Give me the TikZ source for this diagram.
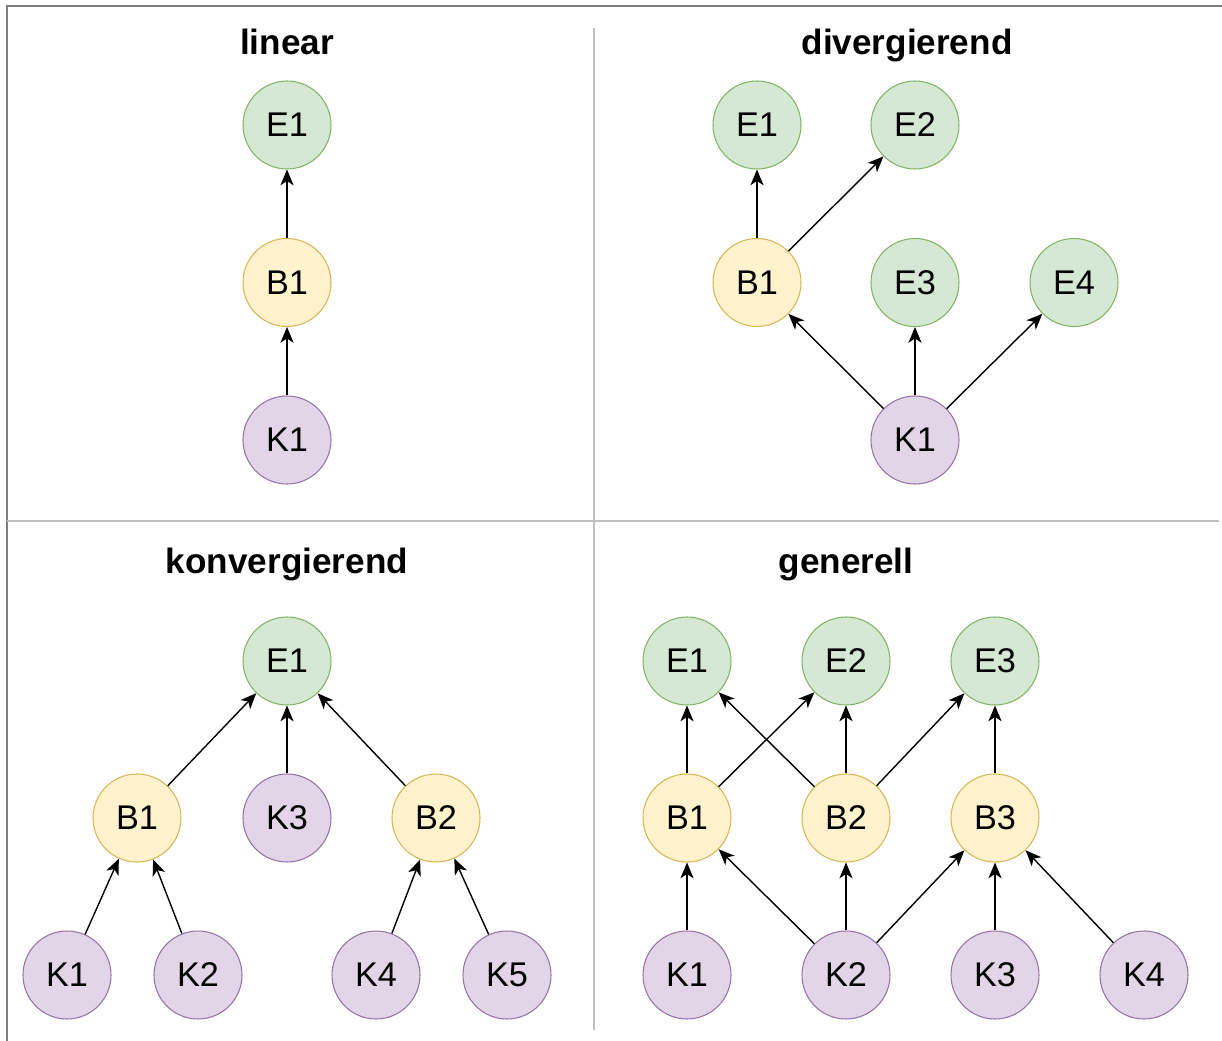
\documentclass[tikz,border=0pt]{standalone}
\usepackage{fontspec}
\setmainfont{Liberation Sans}
\usetikzlibrary{positioning,arrows.meta}
\definecolor{efill}{HTML}{D5E8D4}
\definecolor{edraw}{HTML}{82B366}
\definecolor{bfill}{HTML}{FFF2CC}
\definecolor{bdraw}{HTML}{D6B656}
\definecolor{kfill}{HTML}{E1D5E7}
\definecolor{kdraw}{HTML}{9673A6}

\begin{document}
\begin{tikzpicture}[line width=0.8pt,on grid,
link/.style={-{Stealth[length=9pt,width=7.5pt,inset=2.5pt]}},
e node/.style={circle,draw=edraw,fill=efill,line width=0.6pt,minimum size=1.76cm,inner sep=0pt,font=\fontsize{19.5}{22}\selectfont},
b node/.style={e node,draw=bdraw,fill=bfill},
k node/.style={e node,draw=kdraw,fill=kfill},
title/.style={anchor=base,font=\fontsize{20}{24}\selectfont\bfseries},
frame/.style={draw=black!50,line width=1.1pt},
divider/.style={draw=black!25,line width=0.9pt}]
\useasboundingbox (0,0) rectangle (24.44,-20.82);
% frame and dividers
\draw[frame] (0.14,-20.82) -- (0.14,-0.12) -- (24.44,-0.12);
\draw[divider] (11.88,-0.56) -- (11.88,-20.6);
\draw[divider] (0.14,-10.42) -- (24.38,-10.42);

% linear
\node[title] (t1) at (5.74,-1.1) {linear};
\node[e node] (l e1) at (5.74,-2.5) {E1};
\node[b node] (l b1) [below = 3.15cm of l e1] {B1};
\node[k node] (l k1) [below = 3.15cm of l b1] {K1};
\path[link]
  (l b1) edge (l e1)
  (l k1) edge (l b1);

% divergierend
\node[title] (t2) at (18.14,-1.1) {divergierend};
\node[e node] (d e1) at (15.14,-2.5) {E1};
\node[e node] (d e2) [right = 3.16cm of d e1] {E2};
\node[b node] (d b1) [below = 3.15cm of d e1] {B1};
\node[e node] (d e3) [below = 3.15cm of d e2] {E3};
\node[e node] (d e4) [right = 3.18cm of d e3] {E4};
\node[k node] (d k1) [below = 3.15cm of d e3] {K1};
\path[link]
  (d b1) edge (d e1)
  (d b1) edge (d e2)
  (d k1) edge (d b1)
  (d k1) edge (d e3)
  (d k1) edge (d e4);

% konvergierend
\node[title] (t3) at (5.74,-11.48) {konvergierend};
\node[e node] (c e1) at (5.74,-13.22) {E1};
\node[k node] (c k3) [below = 3.14cm of c e1] {K3};
\node[b node] (c b1) [left = 3.0cm of c k3] {B1};
\node[b node] (c b2) [right = 2.98cm of c k3] {B2};
\node[k node] (c k1) [below left = 3.14cm and 1.4cm of c b1] {K1};
\node[k node] (c k2) [below right = 3.14cm and 1.22cm of c b1] {K2};
\node[k node] (c k4) [below left = 3.14cm and 1.2cm of c b2] {K4};
\node[k node] (c k5) [below right = 3.14cm and 1.42cm of c b2] {K5};
\path[link]
  (c b1) edge (c e1)
  (c k3) edge (c e1)
  (c b2) edge (c e1)
  (c k1) edge (c b1)
  (c k2) edge (c b1)
  (c k4) edge (c b2)
  (c k5) edge (c b2);

% generell
\node[title] (t4) at (16.92,-11.48) {generell};
\node[e node] (g e1) at (13.74,-13.22) {E1};
\node[e node] (g e2) [right = 3.18cm of g e1] {E2};
\node[e node] (g e3) [right = 2.98cm of g e2] {E3};
\node[b node] (g b1) [below = 3.14cm of g e1] {B1};
\node[b node] (g b2) [below = 3.14cm of g e2] {B2};
\node[b node] (g b3) [below = 3.14cm of g e3] {B3};
\node[k node] (g k1) [below = 3.14cm of g b1] {K1};
\node[k node] (g k2) [below = 3.14cm of g b2] {K2};
\node[k node] (g k3) [below = 3.14cm of g b3] {K3};
\node[k node] (g k4) [right = 2.98cm of g k3] {K4};
\path[link]
  (g b1) edge (g e1)
  (g b1) edge (g e2)
  (g b2) edge (g e1)
  (g b2) edge (g e2)
  (g b2) edge (g e3)
  (g b3) edge (g e3)
  (g k1) edge (g b1)
  (g k2) edge (g b1)
  (g k2) edge (g b2)
  (g k2) edge (g b3)
  (g k3) edge (g b3)
  (g k4) edge (g b3);
\end{tikzpicture}
\end{document}
